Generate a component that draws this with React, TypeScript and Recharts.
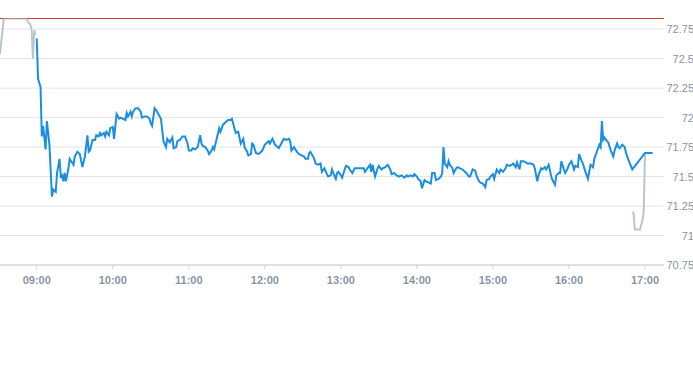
import React from 'react'
import { LineChart, Line, XAxis, YAxis, CartesianGrid, ReferenceLine } from 'recharts'

// pre-market quotes (grey)
const preMarket: [string, number][] = [
  ['08:31', 72.54], ['08:34', 72.84], ['08:52', 72.84], ['08:53', 72.81], ['08:55', 72.79],
  ['08:56', 72.74], ['08:57', 72.5], ['08:58', 72.74], ['08:59', 72.7],
]

// regular session (blue)
const session: [string, number][] = [
  ['09:00', 72.67], ['09:01', 72.33], ['09:03', 72.26], ['09:04', 71.84], ['09:05', 71.93], ['09:07', 71.73],
  ['09:08', 71.97], ['09:10', 71.77], ['09:12', 71.33], ['09:13', 71.39], ['09:15', 71.37], ['09:16', 71.53],
  ['09:18', 71.65], ['09:19', 71.5], ['09:20', 71.51], ['09:21', 71.46], ['09:22', 71.53], ['09:23', 71.46],
  ['09:25', 71.57], ['09:26', 71.65], ['09:29', 71.6], ['09:30', 71.67], ['09:32', 71.71], ['09:34', 71.69],
  ['09:36', 71.58], ['09:38', 71.67], ['09:40', 71.85], ['09:41', 71.71], ['09:42', 71.72], ['09:44', 71.81],
  ['09:46', 71.81], ['09:47', 71.85], ['09:49', 71.84], ['09:50', 71.87], ['09:51', 71.85], ['09:53', 71.87],
  ['09:54', 71.84], ['09:55', 71.88], ['09:57', 71.85], ['09:58', 71.91],
  ['10:00', 71.92], ['10:01', 71.82], ['10:03', 72.03], ['10:05', 71.99], ['10:06', 72.0], ['10:08', 71.99],
  ['10:10', 71.98], ['10:11', 72.04], ['10:12', 72.01], ['10:14', 72.05], ['10:15', 72.01], ['10:16', 72.05],
  ['10:18', 72.08], ['10:20', 72.08], ['10:22', 72.05], ['10:23', 72.0], ['10:25', 72.01], ['10:27', 72.01],
  ['10:29', 71.99], ['10:30', 71.95], ['10:31', 71.93], ['10:33', 72.08], ['10:35', 72.05], ['10:37', 72.01],
  ['10:38', 71.99], ['10:40', 71.8], ['10:42', 71.75], ['10:43', 71.82], ['10:45', 71.79], ['10:47', 71.83],
  ['10:48', 71.74], ['10:50', 71.75], ['10:51', 71.8], ['10:53', 71.81], ['10:55', 71.84], ['10:57', 71.84],
  ['10:59', 71.78],
  ['11:00', 71.72], ['11:02', 71.72], ['11:03', 71.74], ['11:05', 71.73], ['11:07', 71.75], ['11:09', 71.85],
  ['11:10', 71.78], ['11:11', 71.76], ['11:13', 71.75], ['11:15', 71.72], ['11:16', 71.69], ['11:18', 71.72],
  ['11:19', 71.75], ['11:20', 71.73], ['11:22', 71.82], ['11:24', 71.91], ['11:25', 71.88], ['11:27', 71.94],
  ['11:29', 71.96], ['11:31', 71.98], ['11:33', 71.98], ['11:34', 71.99], ['11:36', 71.91], ['11:37', 71.87],
  ['11:39', 71.88], ['11:41', 71.78], ['11:43', 71.82], ['11:44', 71.75], ['11:46', 71.71], ['11:47', 71.68],
  ['11:49', 71.69], ['11:50', 71.78], ['11:51', 71.77], ['11:53', 71.7], ['11:55', 71.69], ['11:56', 71.7],
  ['11:58', 71.72],
  ['12:00', 71.77], ['12:01', 71.78], ['12:03', 71.8], ['12:04', 71.78], ['12:06', 71.82], ['12:08', 71.77],
  ['12:10', 71.75], ['12:11', 71.74], ['12:13', 71.78], ['12:15', 71.82], ['12:17', 71.81], ['12:19', 71.82],
  ['12:20', 71.8], ['12:21', 71.72], ['12:23', 71.75], ['12:24', 71.73], ['12:26', 71.7], ['12:27', 71.69],
  ['12:29', 71.68], ['12:31', 71.67], ['12:32', 71.65], ['12:34', 71.65], ['12:35', 71.7], ['12:36', 71.71],
  ['12:38', 71.67], ['12:39', 71.65], ['12:40', 71.61], ['12:42', 71.6], ['12:44', 71.61], ['12:45', 71.54],
  ['12:47', 71.57], ['12:49', 71.52], ['12:50', 71.5], ['12:52', 71.51], ['12:53', 71.56], ['12:54', 71.53],
  ['12:56', 71.48], ['12:57', 71.53], ['12:58', 71.54],
  ['13:00', 71.51], ['13:01', 71.49], ['13:03', 71.56], ['13:04', 71.59], ['13:06', 71.58], ['13:07', 71.56],
  ['13:09', 71.53], ['13:11', 71.57], ['13:13', 71.57], ['13:15', 71.57], ['13:18', 71.57], ['13:19', 71.54],
  ['13:21', 71.57], ['13:23', 71.6], ['13:24', 71.54], ['13:25', 71.6], ['13:27', 71.5], ['13:29', 71.57],
  ['13:30', 71.59], ['13:32', 71.56], ['13:33', 71.57], ['13:35', 71.58], ['13:37', 71.6], ['13:39', 71.56],
  ['13:40', 71.52], ['13:42', 71.53], ['13:44', 71.51], ['13:46', 71.5], ['13:48', 71.51], ['13:50', 71.49],
  ['13:52', 71.51], ['13:53', 71.5], ['13:55', 71.51], ['13:57', 71.5], ['13:58', 71.52],
  ['14:00', 71.5], ['14:01', 71.48], ['14:03', 71.46], ['14:04', 71.4], ['14:06', 71.47], ['14:07', 71.46],
  ['14:09', 71.45], ['14:11', 71.44], ['14:12', 71.53], ['14:14', 71.53], ['14:15', 71.47], ['14:17', 71.48],
  ['14:19', 71.5], ['14:20', 71.53], ['14:21', 71.75], ['14:22', 71.61], ['14:24', 71.58], ['14:25', 71.63],
  ['14:26', 71.6], ['14:28', 71.57], ['14:29', 71.53], ['14:31', 71.57], ['14:32', 71.58], ['14:34', 71.57],
  ['14:36', 71.56], ['14:37', 71.55], ['14:39', 71.53], ['14:41', 71.5], ['14:42', 71.5], ['14:44', 71.56],
  ['14:46', 71.55], ['14:47', 71.51], ['14:49', 71.46], ['14:50', 71.45], ['14:52', 71.44], ['14:54', 71.41],
  ['14:55', 71.47], ['14:57', 71.48], ['14:58', 71.5],
  ['15:00', 71.52], ['15:01', 71.48], ['15:03', 71.56], ['15:05', 71.53], ['15:06', 71.56], ['15:08', 71.54],
  ['15:10', 71.57], ['15:11', 71.6], ['15:13', 71.59], ['15:15', 71.6], ['15:16', 71.61], ['15:18', 71.58],
  ['15:19', 71.62], ['15:21', 71.56], ['15:22', 71.63], ['15:24', 71.63], ['15:26', 71.62], ['15:27', 71.61],
  ['15:29', 71.61], ['15:30', 71.61], ['15:32', 71.6], ['15:33', 71.57], ['15:35', 71.46], ['15:36', 71.51],
  ['15:38', 71.57], ['15:39', 71.56], ['15:41', 71.58], ['15:42', 71.56], ['15:44', 71.6], ['15:46', 71.5],
  ['15:47', 71.47], ['15:49', 71.43], ['15:50', 71.51], ['15:52', 71.53], ['15:53', 71.53], ['15:54', 71.63],
  ['15:56', 71.56], ['15:57', 71.53], ['15:59', 71.57],
  ['16:00', 71.6], ['16:02', 71.63], ['16:04', 71.56], ['16:05', 71.59], ['16:07', 71.58], ['16:08', 71.69],
  ['16:10', 71.63], ['16:11', 71.61], ['16:13', 71.54], ['16:15', 71.48], ['16:16', 71.54], ['16:17', 71.6],
  ['16:19', 71.58], ['16:20', 71.65], ['16:22', 71.71], ['16:24', 71.77], ['16:25', 71.75], ['16:26', 71.97],
  ['16:27', 71.81], ['16:28', 71.83], ['16:30', 71.8], ['16:31', 71.79], ['16:33', 71.72], ['16:35', 71.67],
  ['16:36', 71.72], ['16:38', 71.78], ['16:39', 71.75], ['16:40', 71.74], ['16:42', 71.77], ['16:44', 71.75],
  ['16:45', 71.7], ['16:47', 71.64], ['16:50', 71.56],
  ['17:00', 71.7], ['17:06', 71.7],
]

// after-hours quotes (grey)
const afterHours: [string, number][] = [
  ['16:50', 71.2], ['16:51', 71.19], ['16:52', 71.05], ['16:56', 71.05], ['16:58', 71.13], ['16:59', 71.2], ['17:00', 71.7],
]

const timeTicks = ['09:00', '10:00', '11:00', '12:00', '13:00', '14:00', '15:00', '16:00', '17:00']
const priceTicks = [70.75, 71, 71.25, 71.5, 71.75, 72, 72.25, 72.5, 72.75]
const limitPrice = 72.84
const timeRange = ['08:31', '17:15']

const toMin = (s: string) => {
  const [h, m] = s.split(':').map(Number)
  return h * 60 + m
}

const fmtTime = (m: number) => {
  const h = Math.floor(m / 60)
  const mm = m % 60
  return `${String(h).padStart(2, '0')}:${String(mm).padStart(2, '0')}`
}

const toRows = (pts: [string, number][]) => pts.map(([time, price]) => ({ t: toMin(time), price }))

const labelColor = '#8895a3'
const fontFamily = '"Liberation Sans", Arial, sans-serif'

const PriceTick = ({ y, payload }: any) => (
  <text x={694} y={y} dy={4} textAnchor="end" fill={labelColor} fontSize={11} fontFamily={fontFamily}>
    {payload.value}
  </text>
)

export default function App() {
  return (
    <div style={{ position: 'absolute', left: 0, top: 0, width: 693, height: 365, background: '#fff' }}>
      <LineChart width={693} height={365} margin={{ top: 18.5, right: 0, left: 0, bottom: 70 }}>
        <CartesianGrid horizontal vertical={false} stroke="#e4e4e4" />
        <XAxis
          type="number"
          dataKey="t"
          domain={[toMin(timeRange[0]), toMin(timeRange[1])]}
          ticks={timeTicks.map(toMin)}
          tickFormatter={fmtTime}
          allowDataOverflow
          height={30}
          stroke="#c9d1d9"
          tickSize={4}
          tickMargin={7}
          tick={{ fill: labelColor, fontSize: 11, fontFamily, fontWeight: 'bold' }}
        />
        <YAxis
          orientation="right"
          width={29}
          type="number"
          domain={[priceTicks[0], limitPrice]}
          ticks={priceTicks}
          allowDataOverflow
          axisLine={false}
          tickLine={false}
          tick={<PriceTick />}
        />
        <ReferenceLine y={limitPrice} stroke="#d33a35" strokeWidth={1} />
        <Line data={toRows(preMarket)} dataKey="price" type="linear" stroke="#b9c5ce" strokeWidth={2} dot={false} isAnimationActive={false} />
        <Line data={toRows(afterHours)} dataKey="price" type="linear" stroke="#b9c5ce" strokeWidth={2} dot={false} isAnimationActive={false} />
        <Line data={toRows(session)} dataKey="price" type="linear" stroke="#1a8fe0" strokeWidth={2} dot={false} isAnimationActive={false} />
      </LineChart>
    </div>
  )
}
